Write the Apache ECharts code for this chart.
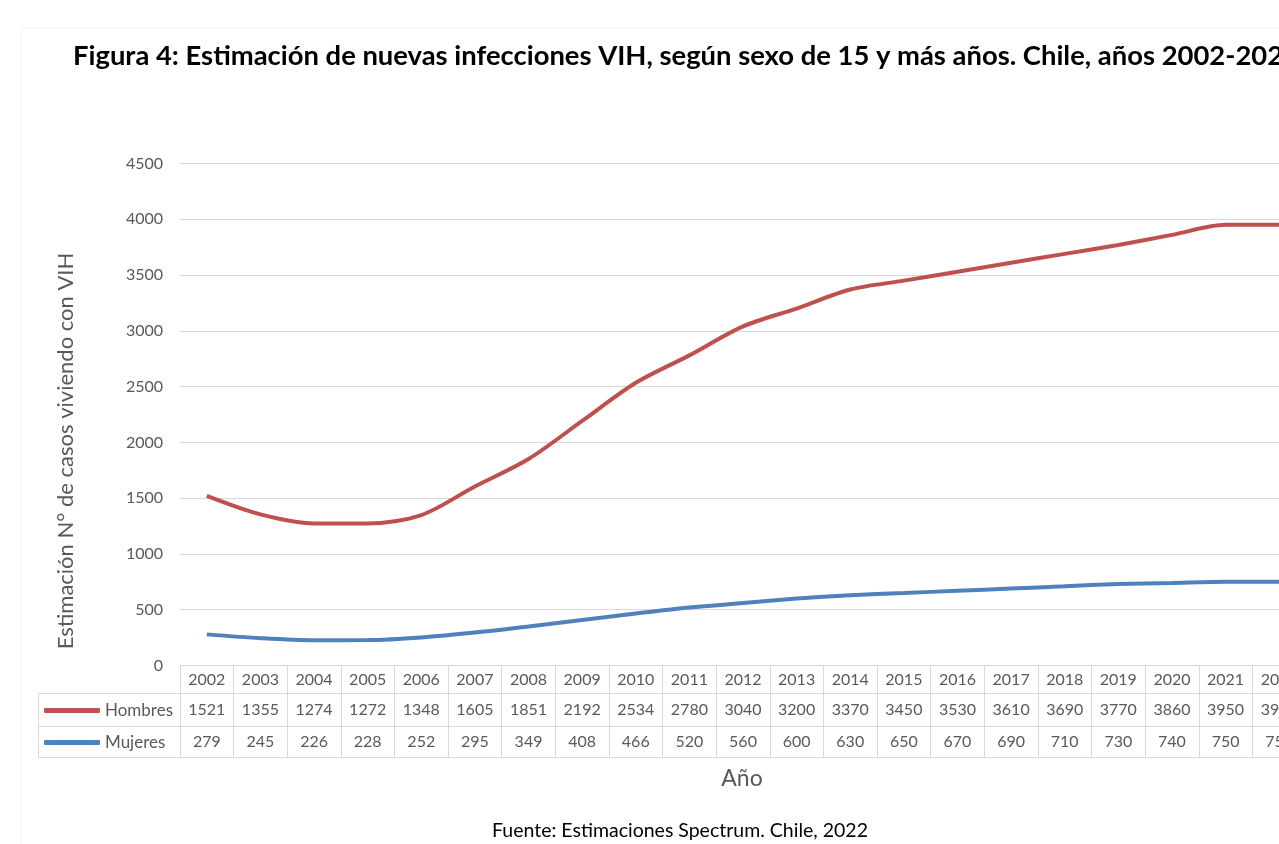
<!DOCTYPE html>
<html>
<head>
<meta charset="utf-8">
<script src="https://cdn.jsdelivr.net/npm/echarts@6/dist/echarts.min.js"></script>
<style>
  html, body { margin: 0; padding: 0; background: #fff; }
  #chart { width: 1279px; height: 844px; }
</style>
</head>
<body>
<div id="chart"></div>
<script>
// datos
const years = ['2002', '2003', '2004', '2005', '2006', '2007', '2008', '2009', '2010', '2011',
  '2012', '2013', '2014', '2015', '2016', '2017', '2018', '2019', '2020', '2021', '2022'];
const hombres = [1521, 1355, 1274, 1272, 1348, 1605, 1851, 2192, 2534, 2780,
  3040, 3200, 3370, 3450, 3530, 3610, 3690, 3770, 3860, 3950, 3950];
const mujeres = [279, 245, 226, 228, 252, 295, 349, 408, 466, 520,
  560, 600, 630, 650, 670, 690, 710, 730, 740, 750, 750];

const gray = '#595959';
const border = '#d9d9d9';
const font = 'Lato';

const chart = echarts.init(document.getElementById('chart'));

// ejes x extra que hacen de tabla de datos
const tableAxis = (offset, values, margin, showTick) => ({
    type: 'category',
    data: years,
    position: 'bottom',
    offset: offset,
    boundaryGap: true,
    axisLine: { show: true, lineStyle: { color: border, width: 1 } },
    axisTick: { show: showTick, interval: 0, length: 92, lineStyle: { color: border } },
    axisLabel: {
        show: values !== null,
        interval: 0,
        margin: margin,
        color: gray,
        fontSize: 16,
        fontFamily: font,
        formatter: (v, i) => values ? String(values[i]) : ''
    },
    splitLine: { show: false }
});

const option = {
    backgroundColor: '#fff',
    animation: false,
    title: {
        text: 'Figura 4: Estimación de nuevas infecciones VIH, según sexo de 15 y más años. Chile, años 2002-2022',
        left: 73,
        top: 43,
        padding: 0,
        textStyle: { fontFamily: font, fontWeight: 'bold', fontSize: 27.4, color: '#000' }
    },
    legend: [
        {
            data: ['Hombres'], left: 39, top: 697, icon: 'roundRect', itemWidth: 56, itemHeight: 5,
            textStyle: { color: gray, fontSize: 17, fontFamily: font }, selectedMode: false
        },
        {
            data: ['Mujeres'], left: 39, top: 729, icon: 'roundRect', itemWidth: 56, itemHeight: 5,
            textStyle: { color: gray, fontSize: 17, fontFamily: font }, selectedMode: false
        }
    ],
    // la tabla sigue mas alla del borde derecho, como en la figura
    grid: { left: 180, width: 1126, top: 163.5, bottom: 178.5, containLabel: false, outerBoundsMode: 'none' },
    xAxis: [
        tableAxis(0, years, 6, true),
        tableAxis(28, hombres, 8, false),
        tableAxis(61, mujeres, 7, false),
        tableAxis(92, null, 8, false)
    ],
    yAxis: {
        type: 'value',
        min: 0,
        max: 4500,
        interval: 500,
        axisLine: { show: false },
        axisTick: { show: false },
        axisLabel: { color: gray, fontSize: 16, fontFamily: font, margin: 17, formatter: v => String(v) },
        splitLine: { lineStyle: { color: border, width: 1 } }
    },
    series: [
        {
            name: 'Hombres',
            type: 'line',
            data: hombres,
            smooth: 0.3,
            showSymbol: false,
            symbol: 'none',
            itemStyle: { color: '#C0504D' },
            lineStyle: { color: '#C0504D', width: 4 }
        },
        {
            name: 'Mujeres',
            type: 'line',
            data: mujeres,
            smooth: 0.3,
            showSymbol: false,
            symbol: 'none',
            itemStyle: { color: '#4F81BD' },
            lineStyle: { color: '#4F81BD', width: 4 }
        }
    ],
    graphic: [
        // marco tenue del area del grafico
        {
            type: 'rect', shape: { x: 21, y: 28, width: 1300, height: 840, r: 6 },
            style: { fill: 'none', stroke: '#f0f0f0', lineWidth: 1 }, silent: true, z: -1
        },
        // columna izquierda de la tabla
        { type: 'line', shape: { x1: 38, y1: 693.5, x2: 180, y2: 693.5 }, style: { stroke: border, lineWidth: 1 } },
        { type: 'line', shape: { x1: 38, y1: 726.5, x2: 180, y2: 726.5 }, style: { stroke: border, lineWidth: 1 } },
        { type: 'line', shape: { x1: 38, y1: 757.5, x2: 180, y2: 757.5 }, style: { stroke: border, lineWidth: 1 } },
        { type: 'line', shape: { x1: 38.5, y1: 693, x2: 38.5, y2: 758 }, style: { stroke: border, lineWidth: 1 } },
        {
            type: 'text', x: 66, y: 451, rotation: Math.PI / 2,
            style: {
                text: 'Estimación N° de casos viviendo con VIH', fill: gray, fontSize: 22, fontFamily: font,
                align: 'center', verticalAlign: 'middle'
            }
        },
        {
            type: 'text', x: 742, y: 779,
            style: { text: 'Año', fill: gray, fontSize: 23, fontFamily: font, align: 'center', verticalAlign: 'middle' }
        },
        {
            type: 'text', x: 680, y: 831,
            style: {
                text: 'Fuente: Estimaciones Spectrum. Chile, 2022', fill: '#000', fontSize: 19.5, fontFamily: font,
                align: 'center', verticalAlign: 'middle'
            }
        }
    ]
};

chart.setOption(option);
</script>
</body>
</html>
